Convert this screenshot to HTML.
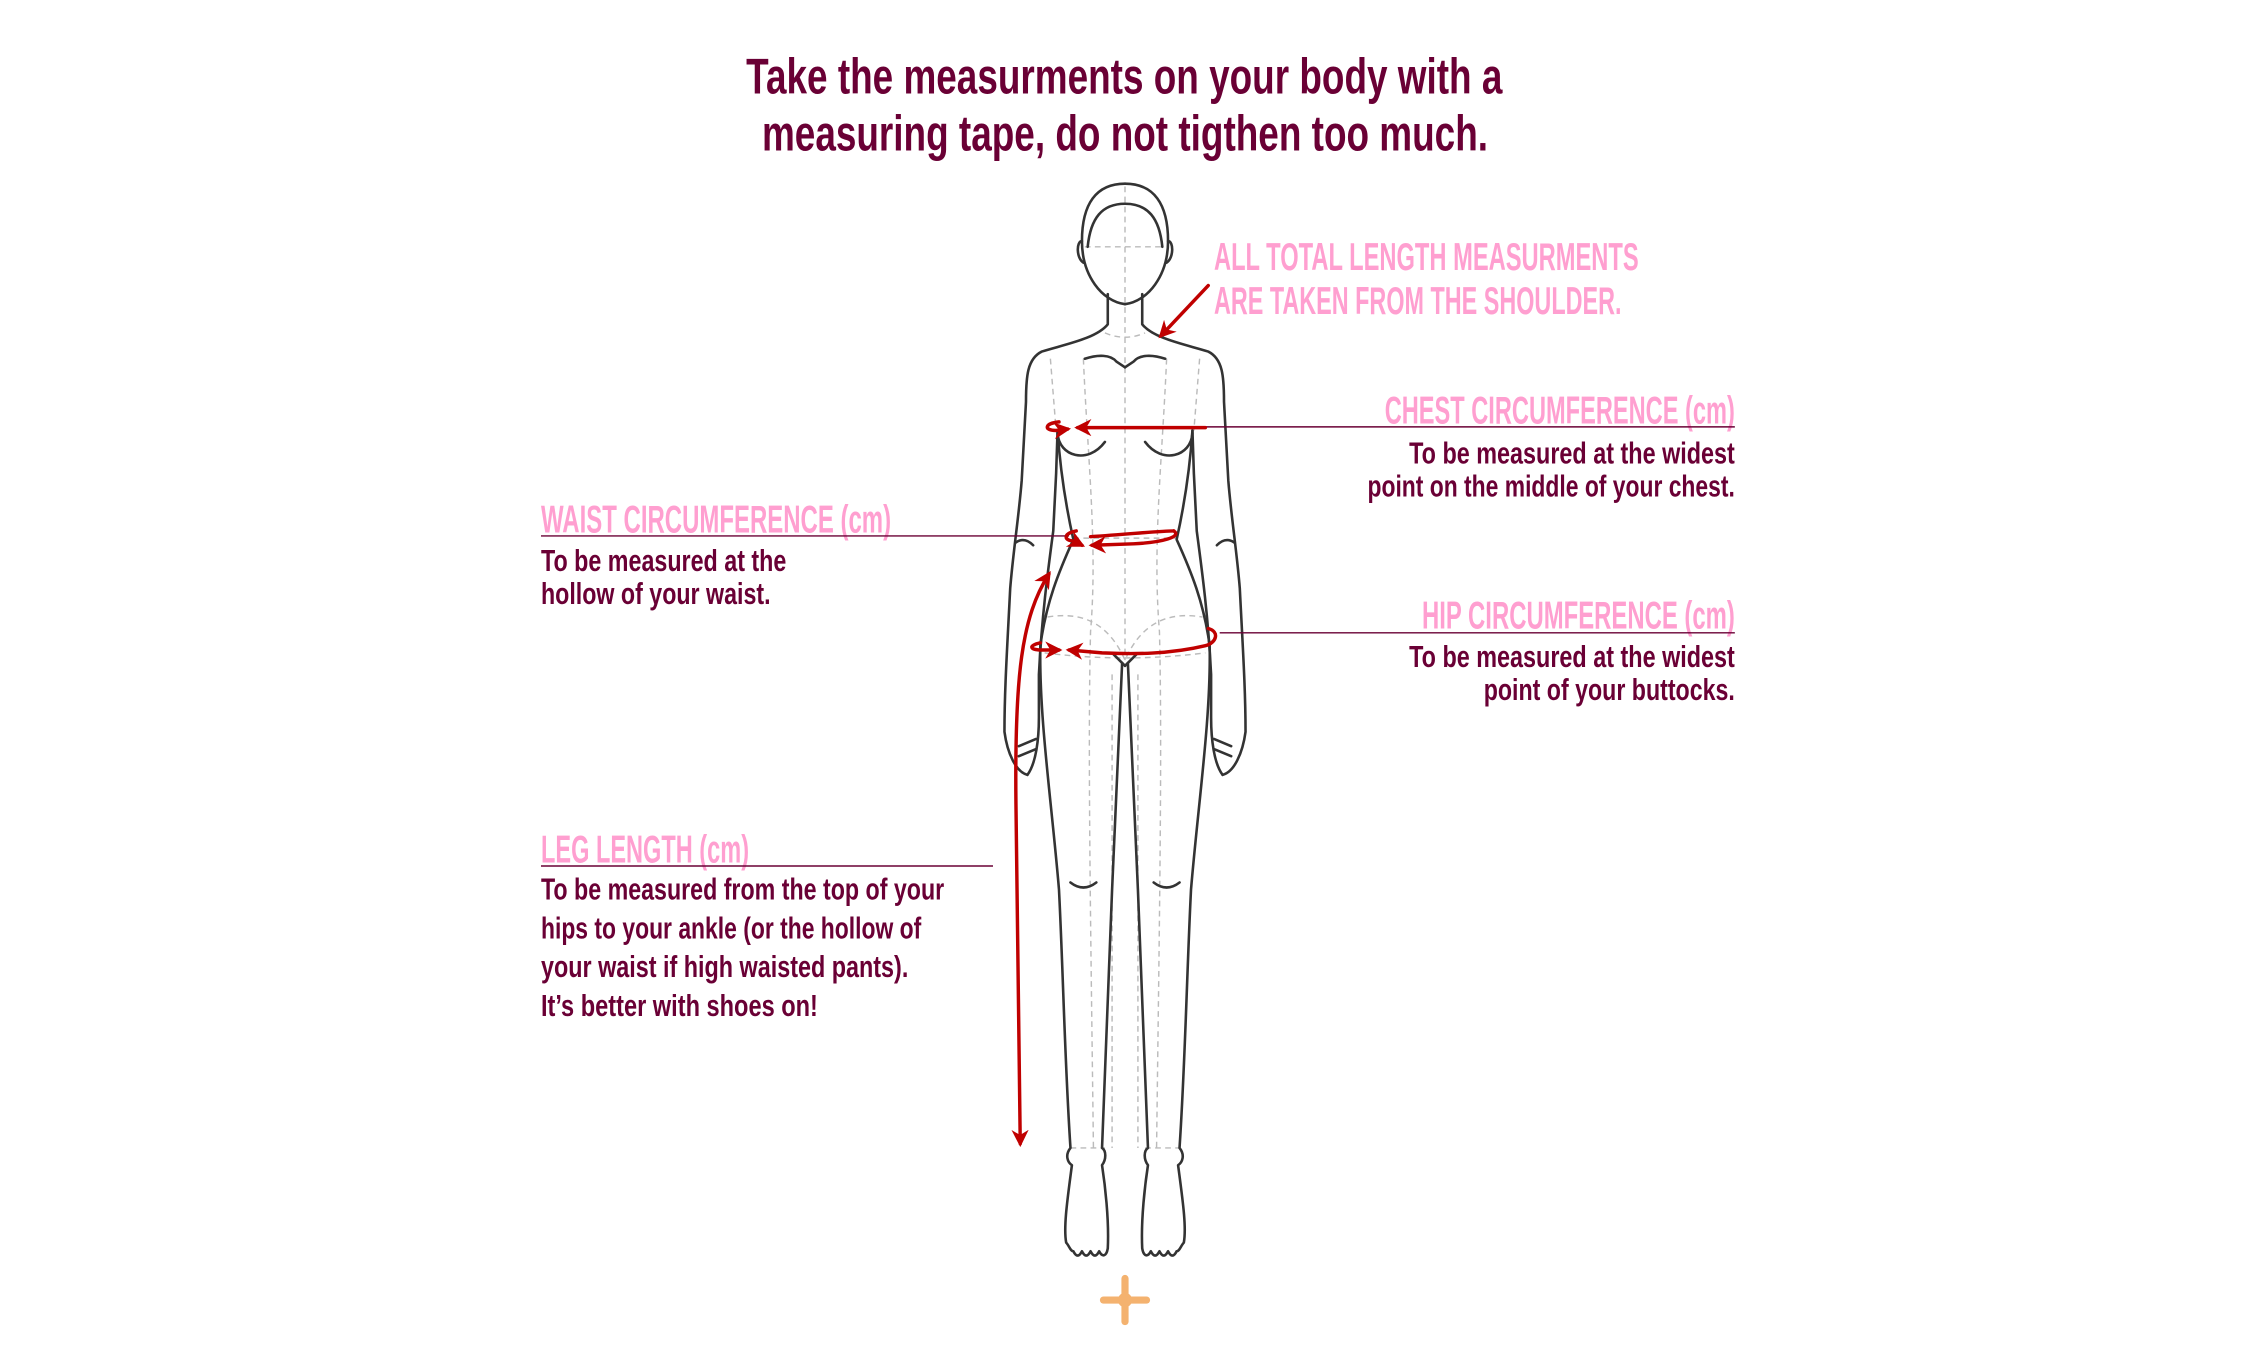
<!DOCTYPE html>
<html><head><meta charset="utf-8">
<style>
html,body{margin:0;padding:0;background:#fff;}
svg{display:block;}
text{font-family:"Liberation Sans Narrow","Liberation Sans",sans-serif;font-weight:bold;}
.t{fill:#6a0035;}
.p{fill:#ff9fd0;}
.b{fill:#6a0035;font-size:21px;}
.h{fill:#ff9fd0;font-size:27px;}
.fig{fill:none;stroke:#333;stroke-width:1.8;stroke-linecap:round;stroke-linejoin:round;}
.dash{fill:none;stroke:#bbb;stroke-width:1;stroke-dasharray:4 3;}
.red{fill:none;stroke:#c00000;stroke-width:2.4;stroke-linecap:round;}
.ul{stroke:#6a0035;stroke-width:1;}
</style></head>
<body>
<svg width="2250" height="1355" viewBox="0 0 1568 944.3" xmlns="http://www.w3.org/2000/svg">
<defs>
<marker id="ah" viewBox="0 0 10 10" refX="8" refY="5" markerWidth="5" markerHeight="5" orient="auto-start-reverse">
<path d="M0,0 L10,5 L0,10 L3,5 z" fill="#c00000"/>
</marker>
</defs>

<text class="t" x="520" y="65" font-size="35" textLength="527" lengthAdjust="spacingAndGlyphs">Take the measurments on your body with a</text>
<text class="t" x="531" y="105" font-size="35" textLength="506" lengthAdjust="spacingAndGlyphs">measuring tape, do not tigthen too much.</text>

<g class="dash">
<line x1="784" y1="130" x2="784" y2="460"/>
<path d="M756,172 L812,172"/>
<path d="M770,232 Q784,238 798,232"/>
<path d="M732,250 L736,300 M836,250 L832,300"/>
<path d="M755,250 C758,320 765,380 760,440 C758,520 760,640 762,800 M813,250 C810,320 803,380 808,440 C810,520 808,640 806,800"/>
<path d="M748,375 L820,375"/>
<path d="M730,430 C760,425 775,440 784,460 C793,440 808,425 838,430"/>
<path d="M728,455 Q784,462 840,455"/>
<path d="M775,470 L775,800 M793,470 L793,800"/>
<path d="M746,800 L770,800 M798,800 L822,800"/>
</g>

<g id="half" class="fig">
<path d="M784,128 C764,128 754,142 754,168 C754,192 768,210 784,212"/>
<path d="M784,142 C768,142 760,152 758,172"/>
<path d="M754,168 C750,168 750,180 755,183"/>
<path d="M772,205 L772,226 C764,236 742,240 726,245 C716,250 715,262 715,280 L712,335 C710,360 706,385 704,410 C702,450 700,480 700,510 C702,525 708,538 716,540"/>
<path d="M716,540 C722,532 724,515 724,500 L724,470 C726,430 730,400 734,370 L736,330 L737,300"/>
<path d="M737,300 C739,330 744,358 748,376 C738,398 729,420 725,450 C724,500 733,560 738,620 C741,680 742,740 746,800 C742,805 744,810 747,812 C744,835 741,855 743,866 C745,868 746,872 748,872 C750,876 752,876 754,872 C756,876 758,876 760,872 C762,876 764,876 766,872 C768,876 771,876 772,870 C773,850 770,825 768,812 C771,808 771,802 768,800 C770,740 773,680 775,620 C778,560 780,500 782,462"/>
<path d="M776,456 Q784,464 784,464"/>
<path d="M737,302 C738,318 758,324 770,308"/>
<path d="M756,250 C765,247 774,247 778,252 L784,256"/>
<path d="M746,615 Q755,622 764,615"/>
<path d="M708,378 Q714,374 720,380"/>
<path d="M710,520 L722,515 M710,527 L722,522"/>
</g>
<use href="#half" transform="translate(1568,0) scale(-1,1)"/>

<g stroke="#f4b26f" stroke-linecap="round" fill="#f4b26f">
<path d="M784,891 L784,921" stroke-width="5"/>
<path d="M769,906 L799,906" stroke-width="5"/>
<circle cx="784" cy="906" r="5" stroke="none"/>
</g>

<text class="h" x="846" y="188" textLength="296" lengthAdjust="spacingAndGlyphs">ALL TOTAL LENGTH MEASURMENTS</text>
<text class="h" x="846" y="219" textLength="284" lengthAdjust="spacingAndGlyphs">ARE TAKEN FROM THE SHOULDER.</text>
<line class="red" x1="842" y1="199" x2="809" y2="234" stroke-width="1.4" marker-end="url(#ah)"/>

<text class="h" x="965" y="295" textLength="244" lengthAdjust="spacingAndGlyphs">CHEST CIRCUMFERENCE (cm)</text>
<line class="ul" x1="838" y1="297.5" x2="1209" y2="297.5"/>
<text class="b" x="982" y="323" textLength="227" lengthAdjust="spacingAndGlyphs">To be measured at the widest</text>
<text class="b" x="953" y="346" textLength="256" lengthAdjust="spacingAndGlyphs">point on the middle of your chest.</text>
<line class="red" x1="840" y1="298" x2="751" y2="298" marker-end="url(#ah)"/>
<path class="red" d="M738,294 C728,295 727,300 736,300 L744,299" marker-end="url(#ah)"/>

<text class="h" x="377" y="371" textLength="244" lengthAdjust="spacingAndGlyphs">WAIST CIRCUMFERENCE (cm)</text>
<line class="ul" x1="377" y1="373.5" x2="745" y2="373.5"/>
<text class="b" x="377" y="398" textLength="171" lengthAdjust="spacingAndGlyphs">To be measured at the</text>
<text class="b" x="377" y="421" textLength="160" lengthAdjust="spacingAndGlyphs">hollow of your waist.</text>
<path class="red" d="M818,370 C824,374 810,378 790,379 L761,380" marker-end="url(#ah)"/>
<path class="red" d="M818,370 C808,370 790,372 760,374"/>
<path class="red" d="M750,370 C740,372 742,377 748,377 L754,380" marker-end="url(#ah)"/>

<text class="h" x="991" y="438" textLength="218" lengthAdjust="spacingAndGlyphs">HIP CIRCUMFERENCE (cm)</text>
<line class="ul" x1="850" y1="441" x2="1209" y2="441"/>
<text class="b" x="982" y="465" textLength="227" lengthAdjust="spacingAndGlyphs">To be measured at the widest</text>
<text class="b" x="1034" y="488" textLength="175" lengthAdjust="spacingAndGlyphs">point of your buttocks.</text>
<path class="red" d="M842,438 C850,440 848,448 840,450 C815,456 790,456 768,455 L745,453" marker-end="url(#ah)"/>
<path class="red" d="M725,448 C716,450 718,453 726,453 L738,453" marker-end="url(#ah)"/>

<text class="h" x="377" y="601" textLength="145" lengthAdjust="spacingAndGlyphs">LEG LENGTH (cm)</text>
<line class="ul" x1="377" y1="603.5" x2="692" y2="603.5"/>
<text class="b" x="377" y="627" textLength="281" lengthAdjust="spacingAndGlyphs">To be measured from the top of your</text>
<text class="b" x="377" y="654" textLength="265" lengthAdjust="spacingAndGlyphs">hips to your ankle (or the hollow of</text>
<text class="b" x="377" y="681" textLength="256" lengthAdjust="spacingAndGlyphs">your waist if high waisted pants).</text>
<text class="b" x="377" y="708" textLength="193" lengthAdjust="spacingAndGlyphs">It’s better with shoes on!</text>
<path class="red" d="M711,797 L708,560 C707,470 712,430 731,400" marker-start="url(#ah)" marker-end="url(#ah)" stroke-width="1.8"/>
</svg>
</body></html>
